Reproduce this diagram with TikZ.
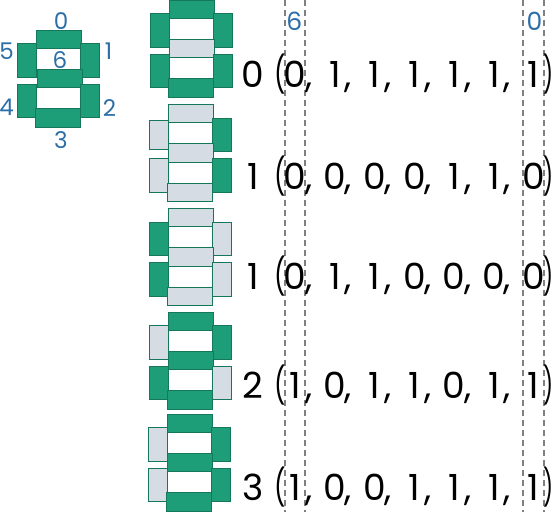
\documentclass[tikz,border=0pt]{standalone}
\usepackage{fontspec}
\setmainfont{Poppins}
\definecolor{segon}{HTML}{1E9E78}
\definecolor{segoff}{HTML}{D6DCE4}
\definecolor{segline}{HTML}{15785A}
\definecolor{lbl}{HTML}{2B6EA8}
\newlength\tupcw
\newcommand\tupfont{\fontsize{36}{36}\selectfont\settowidth\tupcw{,}\spaceskip=\dimexpr19.75pt-\tupcw\relax\xspaceskip=\spaceskip}
\newcommand\tD[1]{\makebox[20pt][c]{#1}}
\newcommand\tO{\makebox[\dimexpr22.2pt-\spaceskip][r]{\scalebox{0.7}[1]{(}\kern-1pt}}
\newcommand\tE{\makebox[8pt][l]{\scalebox{0.62}[1]{)}}}
\tikzset{
  on/.style={fill=segon,draw=segline,line width=0.8pt},
  off/.style={fill=segoff,draw=segline,line width=0.8pt},
  guide/.style={draw=black!50,dash pattern=on 6pt off 4pt,line width=2pt},
  tuple/.style={font=\tupfont,inner sep=0pt,anchor=base west},
  idx/.style={text=lbl,font=\fontsize{23}{23}\selectfont,inner sep=0pt},
  hidx/.style={idx,font=\fontsize{25}{25}\selectfont}
}
\newcommand\sg[5]{\path[#1] (#2,#3) rectangle (#4,#5);}
\begin{document}
\begin{tikzpicture}[x=1pt,y=-1pt]
\useasboundingbox (0,0) rectangle (553,512);
% legend
\sg{on}{36}{30.3}{81.3}{48.7}
\sg{on}{17.3}{43.3}{36.7}{77.3}
\sg{on}{80.7}{43.3}{99.3}{77.3}
\sg{on}{37.3}{69.3}{82.7}{87.3}
\sg{on}{17.3}{84.3}{36.7}{117.3}
\sg{on}{80.7}{84.3}{99.3}{117.3}
\sg{on}{35.3}{108.3}{80.7}{127.3}
\node[idx] (l0) at (61,21) {0};
\node[idx] (l5) at (6.5,51) {5};
\node[idx] (l1) at (108.5,51) {1};
\node[idx] (l6) at (60,60.5) {6};
\node[idx] (l4) at (6.5,107) {4};
\node[idx] (l2) at (109.5,108) {2};
\node[idx] (l3) at (61,140) {3};
% digit 0
\sg{on}{169.3}{0.5}{214.3}{18.3}
\sg{on}{150.3}{13.3}{169.7}{47.3}
\sg{on}{213.3}{13.3}{232.3}{47.3}
\sg{off}{169.3}{39.3}{214}{57.3}
\sg{on}{150.3}{54}{169.7}{87.3}
\sg{on}{213.3}{54}{232.3}{87.3}
\sg{on}{168.3}{78.3}{213.7}{97.3}
% digit 1
\sg{off}{168.3}{104.3}{213.3}{122.3}
\sg{off}{149.3}{120.3}{168.3}{149.3}
\sg{on}{212.3}{118.3}{231.7}{151.7}
\sg{off}{168.3}{143.3}{213.3}{162.3}
\sg{off}{149.3}{158.3}{168.3}{192.3}
\sg{on}{212.3}{158.3}{231.7}{192.3}
\sg{off}{167.3}{183.3}{212.3}{201.7}
% digit 1 mirrored
\sg{off}{168.3}{208.3}{213.3}{226.3}
\sg{on}{149.3}{222.3}{168.3}{255.7}
\sg{off}{212.3}{222.3}{231.7}{255.7}
\sg{off}{168.3}{247.3}{213.3}{266}
\sg{on}{149.3}{262.3}{168.3}{296.7}
\sg{off}{212.3}{262.3}{231.7}{296.7}
\sg{off}{167.3}{287.3}{212.3}{305.7}
% digit 2
\sg{on}{168.3}{312.3}{213.3}{330.7}
\sg{off}{149.3}{325}{168.3}{359.3}
\sg{on}{212.3}{325}{231.7}{359.3}
\sg{on}{168.3}{351}{213.3}{369.3}
\sg{on}{149.3}{366.3}{168.3}{399.3}
\sg{off}{212.3}{366.3}{231.7}{399.3}
\sg{on}{167.3}{390}{212.3}{409.3}
% digit 3
\sg{on}{167.3}{414.3}{212.3}{432.3}
\sg{off}{148.3}{427.7}{167.3}{461.3}
\sg{on}{211.3}{427.7}{230.3}{461.3}
\sg{on}{167.3}{453.3}{212.3}{471.3}
\sg{off}{148.3}{468.3}{167.3}{501}
\sg{on}{211.3}{468.3}{230.3}{501}
\sg{on}{166.3}{492.3}{211.3}{511.3}
% guides
\coordinate (ga0) at (285,0);   \coordinate (ga1) at (285,512);
\coordinate (gb0) at (304.7,0); \coordinate (gb1) at (304.7,512);
\coordinate (gc0) at (523.3,0); \coordinate (gc1) at (523.3,512);
\coordinate (gd0) at (544,0);   \coordinate (gd1) at (544,512);
\draw[guide] (ga0) -- (ga1);
\draw[guide] (gb0) -- (gb1);
\draw[guide] (gc0) -- (gc1);
\draw[guide] (gd0) -- (gd1);
\node[hidx] (h6) at (294.3,21.7) {6};
\node[hidx] (h0) at (534.5,21.7) {0};
% tuples
\node[tuple] (t0) at (242.8,87.3) {\tD{0} \tO\tD{0}, \tD{1}, \tD{1}, \tD{1}, \tD{1}, \tD{1}, \tD{1}\tE};
\node[tuple] (t1) at (242.8,189.3) {\tD{1} \tO\tD{0}, \tD{0}, \tD{0}, \tD{0}, \tD{1}, \tD{1}, \tD{0}\tE};
\node[tuple] (t2) at (242.8,289.3) {\tD{1} \tO\tD{0}, \tD{1}, \tD{1}, \tD{0}, \tD{0}, \tD{0}, \tD{0}\tE};
\node[tuple] (t3) at (242.8,398.5) {\tD{2} \tO\tD{1}, \tD{0}, \tD{1}, \tD{1}, \tD{0}, \tD{1}, \tD{1}\tE};
\node[tuple] (t4) at (242.8,500) {\tD{3} \tO\tD{1}, \tD{0}, \tD{0}, \tD{1}, \tD{1}, \tD{1}, \tD{1}\tE};
\end{tikzpicture}
\end{document}
